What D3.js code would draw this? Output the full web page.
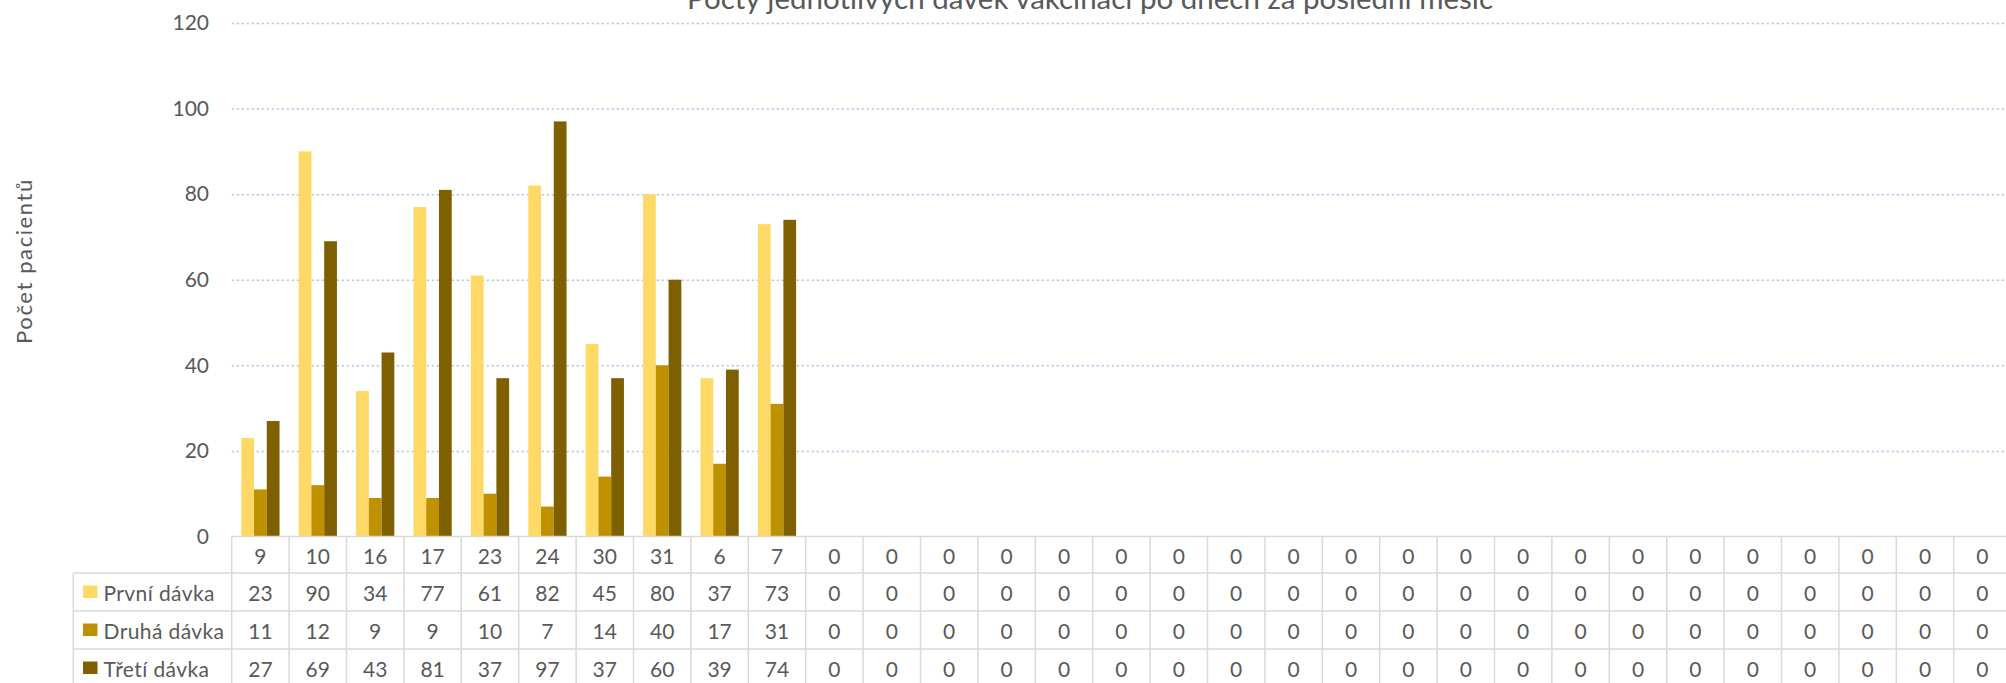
<!DOCTYPE html>
<html>
<head>
<meta charset="utf-8">
<script src="https://cdn.jsdelivr.net/npm/d3@7"></script>
<style>
  body { margin: 0; background: #fff; }
  svg { display: block; }
  text { font-family: Lato, "Open Sans", sans-serif; fill: #595959; }
</style>
</head>
<body>
<svg class="chart"></svg>
<script>
// dny (kategorie) a hodnoty tri serii
var days = ["9", "10", "16", "17", "23", "24", "30", "31", "6", "7",
  "0", "0", "0", "0", "0", "0", "0", "0", "0", "0", "0",
  "0", "0", "0", "0", "0", "0", "0", "0", "0", "0"];
var prvni = [23, 90, 34, 77, 61, 82, 45, 80, 37, 73,
  0, 0, 0, 0, 0, 0, 0, 0, 0, 0, 0,
  0, 0, 0, 0, 0, 0, 0, 0, 0, 0];
var druha = [11, 12, 9, 9, 10, 7, 14, 40, 17, 31,
  0, 0, 0, 0, 0, 0, 0, 0, 0, 0, 0,
  0, 0, 0, 0, 0, 0, 0, 0, 0, 0];
var treti = [27, 69, 43, 81, 37, 97, 37, 60, 39, 74,
  0, 0, 0, 0, 0, 0, 0, 0, 0, 0, 0,
  0, 0, 0, 0, 0, 0, 0, 0, 0, 0];
var seriesNames = ["První dávka", "Druhá dávka", "Třetí dávka"];
var yTicks = [0, 20, 40, 60, 80, 100, 120];

var colors = ["#FFD966", "#BF9000", "#7F6000"];
var series = [prvni, druha, treti];

var W = 2006, H = 683,
  plotLeft = 231.7,
  colW = 57.4,
  plotTop = 23,
  plotBottom = 536.5,
  legendLeft = 73.3,
  rowH = 38,
  headerH = 36.5;

var svg = d3.select(".chart").attr("width", W).attr("height", H);

var idx = days.map(function(d, i){ return i; });

var x0 = d3.scaleBand()
  .domain(idx)
  .range([plotLeft, plotLeft + colW * days.length])
  .padding(0);

// gap width 150% -> outer padding 0.75 bar on each side
var x1 = d3.scaleBand()
  .domain([0, 1, 2])
  .range([0, x0.bandwidth()])
  .paddingInner(0)
  .paddingOuter(0.75);

var y = d3.scaleLinear()
  .domain([0, 120])
  .range([plotBottom, plotTop]);

//gridlines
var grid = svg.append("g")
  .attr("transform", "translate(" + plotLeft + ",0)")
  .call(d3.axisRight(y).tickValues(yTicks.slice(1)).tickSize(W - plotLeft).tickFormat(""));
grid.select(".domain").remove();
grid.selectAll(".tick line")
  .attr("stroke", "#B4C7E7")
  .attr("stroke-width", 1.5)
  .attr("stroke-dasharray", "2.3,2.7");

//y axis labels
var yAxis = svg.append("g")
  .attr("transform", "translate(209,0)")
  .call(d3.axisLeft(y).tickValues(yTicks).tickSize(0).tickPadding(0));
yAxis.select(".domain").remove();
yAxis.selectAll("text")
  .style("font-size", "21px")
  .style("font-family", "Lato, sans-serif")
  .attr("fill", "#595959");

//bars
var groups = svg.append("g").selectAll("g")
  .data(series)
  .enter().append("g")
  .attr("fill", function(d, s){ return colors[s]; });

groups.each(function(vals, s){
  d3.select(this).selectAll("rect")
    .data(vals)
    .enter().append("rect")
    .attr("x", function(d, i){ return x0(i) + x1(s); })
    .attr("y", function(d){ return y(d); })
    .attr("width", x1.bandwidth())
    .attr("height", function(d){ return plotBottom - y(d); });
});

//data table
var table = svg.append("g");
var tableRight = plotLeft + colW * days.length;
var rowTops = [plotBottom + headerH, plotBottom + headerH + rowH, plotBottom + headerH + 2 * rowH];

table.append("line")
  .attr("x1", plotLeft).attr("x2", tableRight)
  .attr("y1", plotBottom).attr("y2", plotBottom);

rowTops.forEach(function(ry){
  table.append("line")
    .attr("x1", legendLeft).attr("x2", tableRight)
    .attr("y1", ry).attr("y2", ry);
});

table.selectAll(".vline")
  .data(idx.concat([days.length]))
  .enter().append("line")
  .attr("class", "vline")
  .attr("x1", function(i){ return plotLeft + colW * i; })
  .attr("x2", function(i){ return plotLeft + colW * i; })
  .attr("y1", plotBottom)
  .attr("y2", H + 10);

table.append("line")
  .attr("x1", legendLeft).attr("x2", legendLeft)
  .attr("y1", rowTops[0]).attr("y2", H + 10);

table.selectAll("line")
  .attr("stroke", "#D9D9D9")
  .attr("stroke-width", 1.5);

//header row
table.selectAll(".day")
  .data(days)
  .enter().append("text")
  .attr("class", "day")
  .attr("x", function(d, i){ return x0(i) + x0.bandwidth() / 2; })
  .attr("y", plotBottom + headerH / 2 + 1)
  .attr("text-anchor", "middle")
  .attr("dominant-baseline", "central")
  .style("font-size", "21px")
  .text(function(d){ return d; });

//value rows
series.forEach(function(vals, s){
  var cy = rowTops[s] + rowH / 2;
  table.selectAll(".val" + s)
    .data(vals)
    .enter().append("text")
    .attr("class", "val" + s)
    .attr("x", function(d, i){ return x0(i) + x0.bandwidth() / 2; })
    .attr("y", cy)
    .attr("text-anchor", "middle")
    .attr("dominant-baseline", "central")
    .style("font-size", "21px")
    .text(function(d){ return d; });

  table.append("rect")
    .attr("x", 83)
    .attr("y", cy - 6.5)
    .attr("width", 14.5)
    .attr("height", 12.5)
    .attr("fill", colors[s]);

  table.append("text")
    .attr("x", 103.5)
    .attr("y", cy)
    .attr("dominant-baseline", "central")
    .style("font-size", "21px")
    .style("letter-spacing", "0.4px")
    .text(seriesNames[s]);
});

//axis title
svg.append("text")
  .attr("transform", "translate(23,261) rotate(-90)")
  .attr("text-anchor", "middle")
  .attr("dominant-baseline", "central")
  .style("font-size", "22px")
  .style("letter-spacing", "1.6px")
  .text("Počet pacientů");

//chart title (cut at the top edge, as in the source)
svg.append("text")
  .attr("x", 1090)
  .attr("y", 8.5)
  .attr("text-anchor", "middle")
  .style("font-size", "29.5px")
  .text("Počty jednotlivých dávek vakcinací po dnech za poslední měsíc");
</script>
</body>
</html>
